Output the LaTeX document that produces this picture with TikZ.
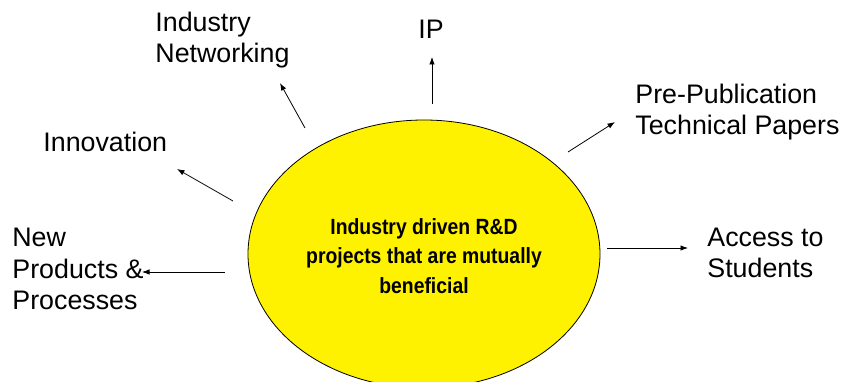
\documentclass[tikz,border=0pt]{standalone}
\usepackage{fontspec}
\setmainfont{Liberation Sans}
\newfontfamily\narrowfont[FakeStretch=0.88]{Liberation Sans}
\usepackage{tikz}
\usetikzlibrary{
    arrows.meta,
    shapes,
    positioning
}

\tikzset{
    outer/.style={inner sep=0pt, align=left, anchor=base west,
        font=\fontsize{26.8}{31.5}\selectfont},
    hub/.style={draw, ellipse, fill=yellow, line width=0.8pt, inner sep=0pt,
        minimum width=352pt, minimum height=268pt, align=center,
        font=\narrowfont\bfseries\fontsize{22}{29.5}\selectfont}
}

\begin{document}
\begin{tikzpicture}[x=1pt, y=-1pt, >={Latex[length=7.5pt, width=5.5pt]}, line width=0.8pt]
    \useasboundingbox (0, 0) rectangle (844, 382);

    \node[hub] (nc) at (424, 254) {\rule{0pt}{20pt}Industry driven R\&D\\projects that are mutually\\beneficial};

    % labels, placed at the baseline of their last line
    \node[outer] (nip) at (418, 39) {IP};
    \node[outer] (nnet) at (155, 63) {Industry\\Networking};
    \node[outer] (ninn) at (43, 152) {Innovation};
    \node[outer] (nnew) at (12, 310) {New\\Products \&\\Processes};
    \node[outer] (npub) at (635, 135) {Pre-Publication\\Technical Papers};
    \node[outer] (nacc) at (707, 278) {Access to\\Students};

    % arrow ends
    \coordinate (tip) at (432, 104);
    \coordinate (hip) at (432, 57);
    \coordinate (tnet) at (305, 128);
    \coordinate (hnet) at (280, 83);
    \coordinate (tinn) at (233, 201);
    \coordinate (hinn) at (177, 169);
    \coordinate (tnew) at (225, 272);
    \coordinate (hnew) at (142, 272);
    \coordinate (tpub) at (568, 152);
    \coordinate (hpub) at (615, 122);
    \coordinate (tacc) at (607, 248);
    \coordinate (hacc) at (688, 248);

    \draw
    (tip) edge[->] (hip)
    (tnet) edge[->] (hnet)
    (tinn) edge[->] (hinn)
    (tnew) edge[->] (hnew)
    (tpub) edge[->] (hpub)
    (tacc) edge[->] (hacc);
\end{tikzpicture}
\end{document}
